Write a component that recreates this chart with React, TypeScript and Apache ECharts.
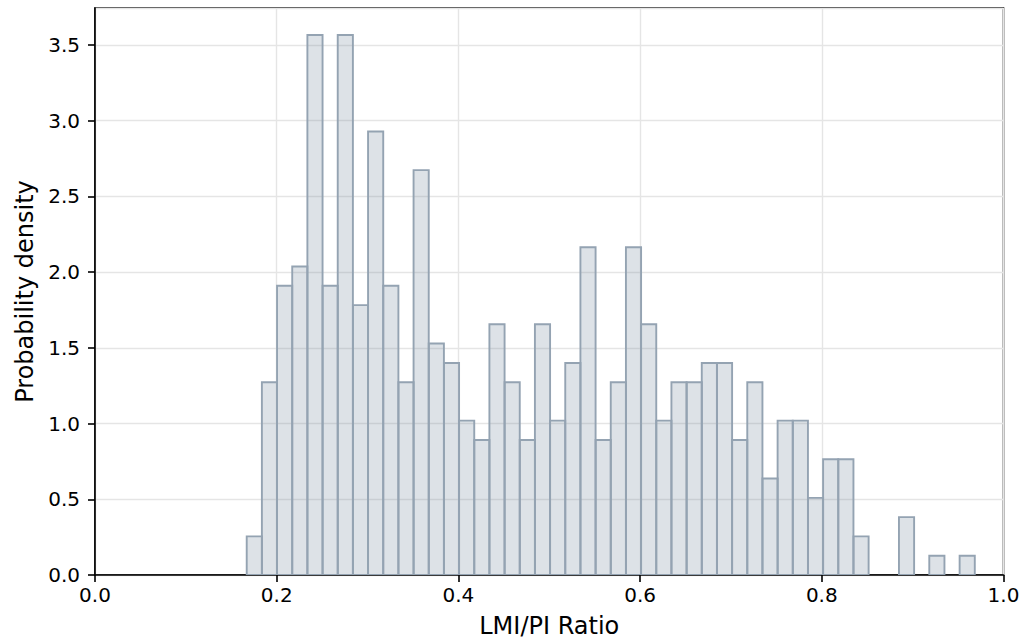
import React, { useEffect, useRef } from "react";
import * as echarts from "echarts";

// Histogram of LMI/PI ratio (probability density), 48 equal-width bins
const binMin = 0.167;
const binMax = 0.9684;
const densities = [
  0.255, 1.273, 1.91, 2.037, 3.565, 1.91, 3.565, 1.782, 2.928, 1.91,
  1.273, 2.673, 1.528, 1.4, 1.019, 0.891, 1.655, 1.273, 0.891, 1.655,
  1.019, 1.4, 2.164, 0.891, 1.273, 2.164, 1.655, 1.019, 1.273, 1.273,
  1.4, 1.4, 0.891, 1.273, 0.637, 1.019, 1.019, 0.509, 0.764, 0.764,
  0.255, 0, 0, 0.382, 0, 0.127, 0, 0.127,
];
const xTicks = [0, 0.2, 0.4, 0.6, 0.8, 1.0];
const yTicks = [0, 0.5, 1.0, 1.5, 2.0, 2.5, 3.0, 3.5];
const xLabel = "LMI/PI Ratio";
const yLabel = "Probability density";

const FONT = "DejaVu Sans";

export default function App() {
  const ref = useRef<HTMLDivElement>(null);
  useEffect(() => {
    if (!ref.current) return;
    const chart = echarts.init(ref.current, undefined, { renderer: "svg" });
    const n = densities.length;
    const w = (binMax - binMin) / n;
    const rows = densities.map((d, i) => [binMin + i * w, binMin + (i + 1) * w, d]);
    const yMax = Math.max(...densities) * 1.05;
    const tickFmt = (ticks: number[]) => (v: number) =>
      ticks.some((t) => Math.abs(t - v) < 1e-6) ? v.toFixed(1) : "";
    chart.setOption({
      animation: false,
      backgroundColor: "#ffffff",
      grid: {
        left: 95,
        right: 19.5,
        top: 8,
        bottom: 66,
        show: true,
        borderColor: "#000000",
        borderWidth: 1.6,
        backgroundColor: "transparent",
      },
      xAxis: {
        type: "value",
        min: 0,
        max: 1,
        interval: 0.2,
        name: xLabel,
        nameLocation: "middle",
        nameGap: 39,
        nameTextStyle: { fontFamily: FONT, fontSize: 24, color: "#000" },
        axisLine: { show: true, onZero: false, lineStyle: { color: "#000", width: 1.6 } },
        axisTick: { show: true, inside: false, length: 7, lineStyle: { color: "#000", width: 1.6 } },
        axisLabel: {
          margin: 10,
          fontFamily: FONT,
          fontSize: 20,
          color: "#000",
          formatter: tickFmt(xTicks),
        },
        splitLine: { show: true, lineStyle: { color: "#e5e5e5", width: 1.4 } },
      },
      yAxis: {
        type: "value",
        min: 0,
        max: yMax,
        interval: 0.5,
        name: yLabel,
        nameLocation: "middle",
        nameGap: 57,
        nameTextStyle: { fontFamily: FONT, fontSize: 24, color: "#000" },
        axisLine: { show: true, onZero: false, lineStyle: { color: "#000", width: 1.6 } },
        axisTick: { show: true, inside: false, length: 7, lineStyle: { color: "#000", width: 1.6 } },
        axisLabel: {
          margin: 15,
          fontFamily: FONT,
          fontSize: 20,
          color: "#000",
          showMaxLabel: false,
          formatter: tickFmt(yTicks),
        },
        splitLine: { show: true, lineStyle: { color: "#e5e5e5", width: 1.4 } },
      },
      series: [
        {
          type: "custom",
          data: rows,
          encode: { x: [0, 1], y: 2 },
          clip: true,
          renderItem: (params: any, api: any) => {
            const h = api.value(2);
            if (!(h > 0)) return null;
            const p0 = api.coord([api.value(0), h]);
            const p1 = api.coord([api.value(1), 0]);
            return {
              type: "rect",
              shape: { x: p0[0], y: p0[1], width: p1[0] - p0[0], height: p1[1] - p0[1] },
              style: {
                fill: "rgba(120,140,160,0.25)",
                stroke: "#94a3b2",
                lineWidth: 1.9,
              },
            };
          },
        },
      ],
    });
    return () => chart.dispose();
  }, []);
  return (
    <div
      ref={ref}
      style={{ position: "fixed", left: 0, top: 0, width: 1023, height: 643, background: "#fff" }}
    />
  );
}
